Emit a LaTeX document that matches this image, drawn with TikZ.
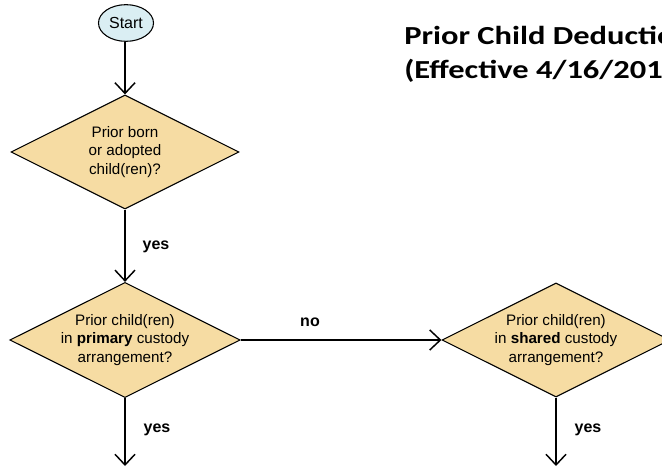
\documentclass[tikz,border=0pt]{standalone}
\usepackage{fontspec}
\setmainfont{Liberation Sans}
\newfontfamily\titlefont{Carlito}[FakeStretch=1.25]
\usetikzlibrary{shapes.geometric,arrows.meta}
\definecolor{decfill}{HTML}{F6DCA3}
\definecolor{startfill}{HTML}{DAEEF3}
\tikzset{
  dec/.style={diamond, draw=black, line width=0.8pt, fill=decfill, aspect=2, inner sep=0pt,
    minimum width=171pt, minimum height=85.5pt, align=center,
    font=\fontsize{11.4}{13.8}\selectfont},
  startnode/.style={ellipse, draw=black, line width=0.8pt, fill=startfill, inner sep=0pt,
    minimum width=41.25pt, minimum height=27.5pt, font=\fontsize{12}{13}\selectfont},
  arr/.style={draw=black, line width=1.1pt, -{Straight Barb[length=8pt,width=15pt,line width=1.1pt]}},
  lbl/.style={font=\fontsize{12}{13}\selectfont\bfseries, inner sep=0pt},
  ttl/.style={font=\titlefont\bfseries\fontsize{19.5}{24}\selectfont, anchor=base west, inner sep=0pt}
}
\begin{document}
\begin{tikzpicture}[x=0.75pt,y=-0.75pt]
\useasboundingbox (0,0) rectangle (662,467);
\clip (0,0) rectangle (662,467);
\node[startnode] (start) at (126,23) {Start};
\node[dec] (d1) at (125,152) {Prior born\\or adopted\\child(ren)?};
\node[dec] (d2) at (125,340) {Prior child(ren)\\in \textbf{primary} custody\\arrangement?};
\node[dec] (d3) at (556,340) {Prior child(ren)\\in \textbf{shared} custody\\arrangement?};
\coordinate (e1) at (125,466);
\coordinate (e2) at (556,466);
\draw[arr] (start.south -| d1) -- (d1.north);
\draw[arr] (d1.south) -- (d2.north);
\draw[arr] (d2.east) -- (d3.west);
\draw[arr] (d2.south) -- (e1);
\draw[arr] (d3.south) -- (e2);
\node[lbl] (y1) at (156,247) {yes};
\node[lbl] (y2) at (157,430) {yes};
\node[lbl] (y3) at (588,430) {yes};
\node[lbl] (n1) at (310,322) {no};
\node[ttl] (t1) at (404,44.3) {Prior Child Deduction};
\node[ttl] (t2) at (404,78.3) {(Effective 4/16/2018)};
\end{tikzpicture}
\end{document}
